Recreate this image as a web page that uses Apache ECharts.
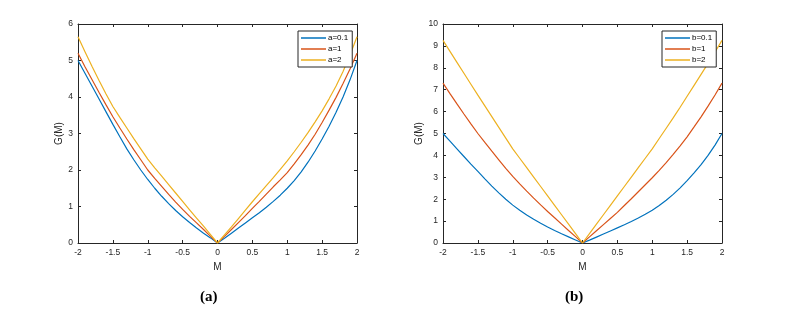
<!DOCTYPE html>
<html><head><meta charset="utf-8">
<script src="https://cdn.jsdelivr.net/npm/echarts@6/dist/echarts.min.js"></script>
<style>html,body{margin:0;padding:0;background:#fff}#c{width:793px;height:311px}</style>
</head><body><div id="c"></div>
<script>
var M = [-2,-1.9,-1.8,-1.7,-1.6,-1.5,-1.4,-1.3,-1.2,-1.1,-1,-0.9,-0.8,-0.7,-0.6,-0.5,-0.4,-0.3,-0.2,-0.1,0,
         0.1,0.2,0.3,0.4,0.5,0.6,0.7,0.8,0.9,1,1.1,1.2,1.3,1.4,1.5,1.6,1.7,1.8,1.9,2];
var xTicks = ['-2','-1.5','-1','-0.5','0','0.5','1','1.5','2'];
var namesA = ['a=0.1','a=1','a=2'];
var namesB = ['b=0.1','b=1','b=2'];
var a01 = [5.0,4.65,4.3,3.95,3.6,3.25,2.91,2.58,2.28,2.0,1.74,1.50,1.28,1.08,0.89,0.72,0.56,0.41,0.27,0.14,0,
           0.13,0.27,0.41,0.55,0.69,0.83,0.98,1.14,1.31,1.5,1.71,1.95,2.22,2.52,2.85,3.2,3.58,4.0,4.47,5.0];
var a1  = [5.2,4.83,4.48,4.13,3.79,3.46,3.15,2.85,2.56,2.28,2.0,1.77,1.55,1.33,1.12,0.92,0.73,0.55,0.37,0.18,0,
           0.18,0.37,0.56,0.75,0.95,1.14,1.34,1.54,1.73,1.93,2.17,2.42,2.69,2.98,3.3,3.64,3.99,4.37,4.77,5.2];
var a2  = [5.65,5.24,4.84,4.46,4.09,3.74,3.44,3.15,2.86,2.58,2.3,2.06,1.83,1.6,1.37,1.14,0.91,0.68,0.46,0.23,0,
           0.22,0.44,0.67,0.9,1.13,1.35,1.57,1.79,2.02,2.25,2.5,2.76,3.03,3.32,3.62,3.95,4.3,4.7,5.15,5.65];
var b01 = [5.0,4.65,4.3,3.95,3.6,3.27,2.93,2.6,2.29,2.0,1.73,1.50,1.28,1.08,0.9,0.73,0.57,0.42,0.28,0.14,0,
           0.13,0.27,0.41,0.55,0.69,0.83,0.98,1.14,1.31,1.5,1.71,1.95,2.22,2.52,2.85,3.2,3.58,4.0,4.47,5.0];
var b1  = [7.3,6.82,6.35,5.89,5.44,5.0,4.59,4.19,3.8,3.41,3.04,2.7,2.37,2.05,1.74,1.44,1.15,0.86,0.57,0.29,0,
           0.28,0.56,0.84,1.12,1.4,1.71,2.02,2.34,2.66,2.98,3.32,3.67,4.05,4.44,4.85,5.3,5.76,6.25,6.76,7.3];
var b2  = [9.25,8.75,8.25,7.75,7.25,6.75,6.26,5.77,5.28,4.79,4.3,3.87,3.44,3.01,2.58,2.15,1.72,1.29,0.86,0.43,0,
           0.43,0.86,1.29,1.72,2.15,2.58,3.01,3.44,3.87,4.3,4.77,5.24,5.71,6.2,6.7,7.2,7.7,8.2,8.72,9.25];

var colors = ['#0072BD','#D95319','#EDB120'];
var axisColor = '#262626';
var font = 'Liberation Sans';
function pairs(ys){ return M.map(function(x,i){ return [x, ys[i]]; }); }

var grids = [
  {left:78, top:24, width:279, height:219},
  {left:443, top:24, width:279, height:219}
];
function xAx(g, pos, show){
  return {type:'value', gridIndex:g, position:pos, min:-2, max:2, interval:0.5,
    name: show ? 'M' : '', nameLocation:'middle', nameGap:19,
    nameTextStyle:{fontFamily:font, fontSize:10, color:axisColor},
    axisLine:{show:true, onZero:false, lineStyle:{color:axisColor, width:1}},
    axisTick:{show:true, inside:true, length:3, lineStyle:{color:axisColor}},
    axisLabel:{show:show, fontFamily:font, fontSize:8.5, color:axisColor, margin:5},
    splitLine:{show:false}};
}
function yAx(g, pos, show, max){
  return {type:'value', gridIndex:g, position:pos, min:0, max:max, interval:1,
    name: show ? 'G(M)' : '', nameLocation:'middle', nameGap:12,
    nameTextStyle:{fontFamily:font, fontSize:10, color:axisColor},
    axisLine:{show:true, onZero:false, lineStyle:{color:axisColor, width:1}},
    axisTick:{show:true, inside:true, length:3, lineStyle:{color:axisColor}},
    axisLabel:{show:show, fontFamily:font, fontSize:8.5, color:axisColor, margin:5},
    splitLine:{show:false}};
}
function ser(name, ys, g, c){
  return {type:'line', name:name, xAxisIndex:g*2, yAxisIndex:g*2, data:pairs(ys),
    symbol:'none', lineStyle:{color:c, width:1.2}, itemStyle:{color:c},
    silent:true, animation:false};
}
function leg(g, names, left){
  return {data:names, orient:'vertical', left:left, top:31,
    icon:'rect', itemWidth:25, itemHeight:1.5, itemGap:1, padding:[2,4,2,3],
    backgroundColor:'#fff', borderColor:'#262626', borderWidth:1, borderRadius:0,
    textStyle:{fontFamily:font, fontSize:8, lineHeight:10, color:'#000', padding:[0,0,0,-3]},
    selectedMode:false};
}
var option = {
  backgroundColor:'#fff',
  animation:false,
  grid: grids,
  xAxis: [xAx(0,'bottom',true), xAx(0,'top',false), xAx(1,'bottom',true), xAx(1,'top',false)],
  yAxis: [yAx(0,'left',true,6), yAx(0,'right',false,6), yAx(1,'left',true,10), yAx(1,'right',false,10)],
  legend: [leg(0, namesA, 298), leg(1, namesB, 662)],
  series: [
    ser(namesA[0], a01, 0, colors[0]), ser(namesA[1], a1, 0, colors[1]), ser(namesA[2], a2, 0, colors[2]),
    ser(namesB[0], b01, 1, colors[0]), ser(namesB[1], b1, 1, colors[1]), ser(namesB[2], b2, 1, colors[2])
  ],
  graphic: [
    {type:'text', left:200, top:290, style:{text:'(a)', font:'bold 15px "Liberation Serif"', fill:'#000'}},
    {type:'text', left:565, top:290, style:{text:'(b)', font:'bold 15px "Liberation Serif"', fill:'#000'}}
  ]
};
var chart = echarts.init(document.getElementById('c'), null, {renderer:'canvas'});
chart.setOption(option);
</script></body></html>
